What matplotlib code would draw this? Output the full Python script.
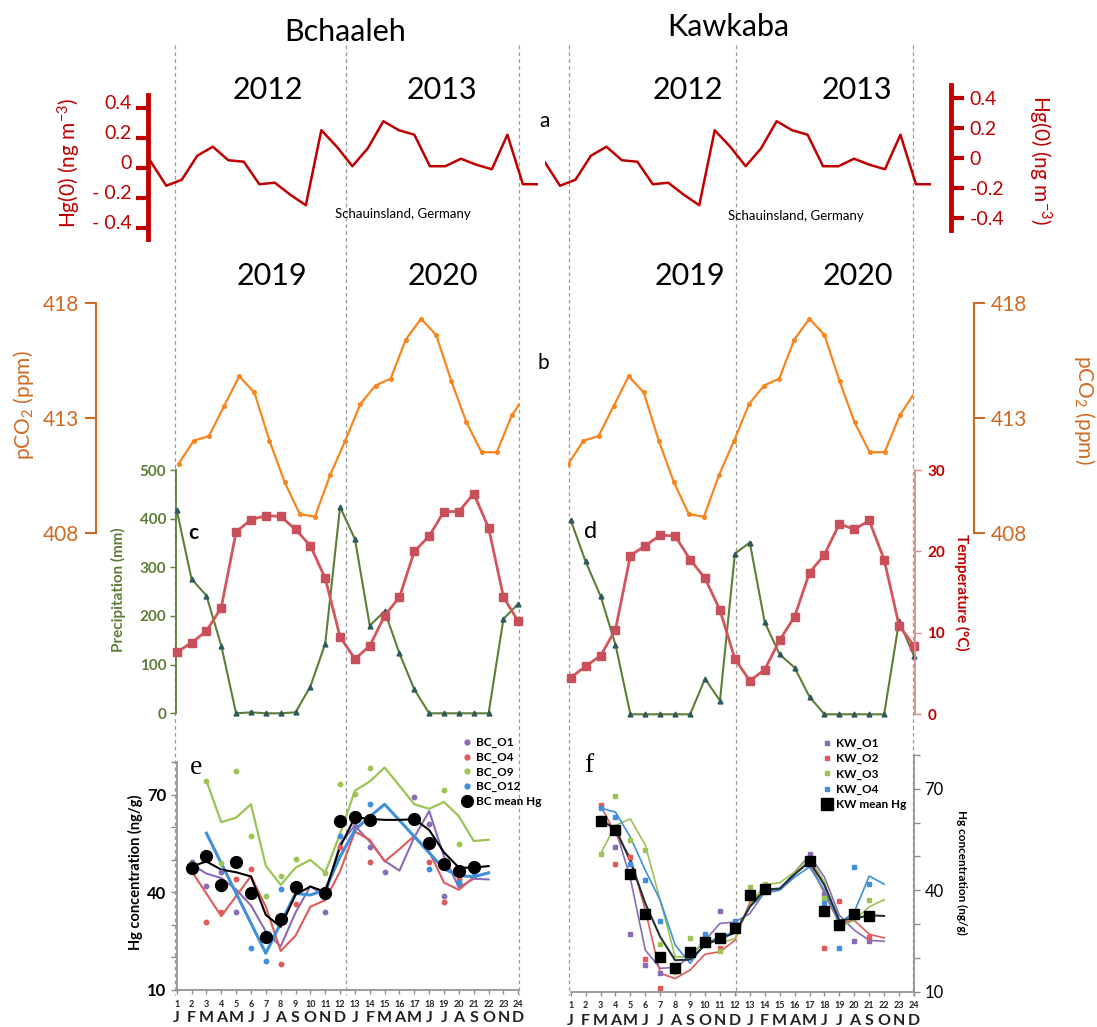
import numpy as np
import matplotlib
matplotlib.use("Agg")
import matplotlib.pyplot as plt
from matplotlib.lines import Line2D
from matplotlib import transforms as mtrans

plt.rcParams['font.family'] = ['Lato', 'DejaVu Sans']
plt.rcParams['mathtext.fontset'] = 'custom'
plt.rcParams['mathtext.rm'] = 'Lato'
plt.rcParams['mathtext.it'] = 'Lato:italic'
plt.rcParams['mathtext.bf'] = 'Lato:bold'
plt.rcParams['axes.unicode_minus'] = False

nan = np.nan

# ---------------- data ----------------
sites = ["Bchaaleh", "Kawkaba"]
years_hg = ["2012", "2013"]
years_co2 = ["2019", "2020"]
month_letters = ["J", "F", "M", "A", "M", "J", "J", "A", "S", "O", "N", "D"] * 2
month_numbers = [str(i) for i in range(1, 25)]

# (a) Hg(0) anomaly, Schauinsland (26 monthly points)
hg0 = [0.04, -0.12, -0.08, 0.08, 0.14, 0.05, 0.04, -0.11, -0.10, -0.18, -0.25, 0.25, 0.14,
       0.01, 0.13, 0.31, 0.25, 0.22, 0.01, 0.01, 0.06, 0.02, -0.01, 0.22, -0.11, -0.11]

# (b) pCO2 (ppm), months 1..24
pco2 = [411.0, 412.0, 412.2, 413.5, 414.8, 414.1, 412.0, 410.2, 408.8, 408.7, 410.5, 412.0,
        413.6, 414.4, 414.7, 416.4, 417.3, 416.6, 414.6, 412.8, 411.5, 411.5, 413.1, 414.1]

# (c) Bchaaleh precipitation (mm) and temperature (C)
precip_bc = [418, 276, 242, 139, 0, 2, 0, 0, 2, 55, 143, 424,
             358, 180, 210, 123, 49, 0, 0, 0, 0, 0, 194, 225]
temp_bc = [7.6, 8.8, 10.2, 13.1, 22.4, 23.9, 24.4, 24.3, 22.7, 20.7, 16.7, 9.5,
           6.8, 8.4, 12.1, 14.4, 20.0, 21.9, 24.9, 24.9, 27.1, 22.9, 14.4, 11.4]

# (d) Kawkaba precipitation (mm) and temperature (C)
precip_kw = [399, 314, 243, 143, 0, 0, 0, 0, 0, 73, 28, 330,
             353, 189, 123, 96, 36, 0, 0, 0, 0, 0, 191, 120]
temp_kw = [4.5, 5.9, 7.2, 10.4, 19.5, 20.7, 22.0, 21.9, 19.0, 16.7, 12.8, 6.8,
           4.1, 5.5, 9.1, 12.0, 17.4, 19.6, 23.4, 22.7, 23.8, 19.0, 10.9, 8.4]

# (e) Bchaaleh Hg (ng/g), months 1..24 : raw points
bc_o1_pts = [nan, 49.3, 42.1, 46.2, 34.1, nan, nan, nan, nan, nan, 34.1, 63.0,
             60.5, 54.1, 46.2, nan, 69.2, 61.1, 39.0, 42.5, nan, nan, nan, nan]
bc_o4_pts = [nan, nan, 31.0, 34.0, 44.0, 47.1, nan, 17.9, 36.3, nan, nan, 54.1,
             64.2, 49.2, nan, nan, nan, 49.2, 36.9, 44.1, nan, nan, nan, nan]
bc_o9_pts = [nan, nan, 74.3, 49.0, 77.3, 57.2, 39.0, 45.1, 50.2, nan, 45.9, 73.3,
             70.2, 78.4, nan, nan, nan, nan, 71.6, 55.0, nan, nan, nan, nan]
bc_o12_pts = [nan, nan, nan, 41.0, nan, 22.9, 18.9, 41.0, nan, nan, nan, 57.2,
              nan, 67.1, nan, nan, nan, 47.1, nan, 43.1, 46.1, nan, nan, nan]
bc_mean_pts = [nan, 47.6, 51.3, 42.4, 49.5, 39.9, 26.4, 31.9, 41.8, nan, 39.8, 62.1,
               63.1, 62.2, nan, nan, 62.6, 55.3, 48.7, 46.5, 47.9, nan, nan, nan]
# (e) trend lines
bc_o1_line = [nan, 48.6, 45.8, 44.4, 40.9, 36.0, 28.0, 23.4, 33.8, 41.9, 38.8, 55.0,
              60.5, 55.6, 49.7, 46.7, 57.0, 65.0, 51.0, 41.5, 44.2, 44.0, nan, nan]
bc_o4_line = [nan, 46.6, nan, 32.7, nan, 45.0, 35.6, 22.0, 26.7, 35.6, 37.6, 46.5,
              58.7, 56.2, 49.5, 53.3, 57.4, 52.6, 43.0, 40.8, 44.7, 46.1, nan, nan]
bc_o9_line = [nan, nan, 74.3, 61.6, 63.0, 67.1, 48.2, 42.3, 47.6, 50.0, 46.1, 58.0,
              71.3, 74.1, 78.4, 72.8, 67.1, 65.7, 67.8, 63.4, 55.8, 56.2, nan, nan]
bc_o12_line = [nan, nan, 58.2, nan, nan, nan, 21.3, nan, 39.7, 39.2, 40.8, 51.0,
               59.2, 63.3, 67.1, nan, nan, nan, 47.2, 45.2, 44.8, 46.0, nan, nan]
bc_mean_line = [nan, 48.0, 49.5, 47.0, 46.2, 44.9, 33.1, 29.4, 39.3, 41.8, 40.2, 54.0,
                63.1, 62.6, 62.3, 62.3, 62.5, 59.2, 52.3, 47.6, 47.6, 48.1, nan, nan]

# (f) Kawkaba Hg (ng/g), months 1..24 : raw points
kw_o1_pts = [nan, nan, 61.4, 52.8, 27.0, 17.9, 15.4, nan, nan, nan, 33.9, nan,
             nan, nan, nan, nan, 50.8, 39.0, nan, 25.0, 24.9, nan, nan, nan]
kw_o2_pts = [nan, nan, 65.1, 47.9, 49.8, 19.8, 11.0, nan, nan, nan, 22.8, nan,
             nan, nan, nan, nan, nan, 22.8, 36.8, nan, 26.2, nan, nan, nan]
kw_o3_pts = [nan, nan, 50.8, 67.8, 54.9, 52.0, 24.0, 15.9, 25.9, nan, 22.1, nan,
             41.0, 41.8, nan, nan, nan, 37.7, nan, nan, 37.2, nan, nan, nan]
kw_o4_pts = [nan, nan, 64.4, 61.8, 47.9, 42.9, 30.9, nan, nan, 27.0, nan, 30.9,
             nan, nan, nan, nan, nan, 36.1, 22.8, 46.9, 41.8, nan, nan, nan]
kw_mean_pts = [nan, nan, 60.4, 57.7, 44.9, 33.1, 20.3, 17.1, 21.8, 24.7, 26.0, 28.7,
               38.7, 40.5, nan, nan, 48.8, 33.8, 29.7, 33.1, 32.4, nan, nan, nan]
# (f) trend lines
kw_o1_line = [nan, nan, 61.1, 58.2, 43.5, 22.3, 16.9, 17.2, 20.3, 25.2, 30.2, 30.6,
              33.1, 39.5, 40.2, 45.4, 50.3, 43.9, 32.6, 28.2, 25.2, 24.9, nan, nan]
kw_o2_line = [nan, nan, 65.1, 56.7, 49.8, 34.1, 15.4, 13.9, 16.4, 21.1, 21.8, 25.2,
              36.5, 39.5, 40.2, 44.9, 48.3, 39.0, 30.2, 31.1, 27.0, 25.9, nan, nan]
kw_o3_line = [nan, nan, 50.8, 59.2, 61.1, 53.3, 37.0, 20.3, 20.3, 25.4, 24.3, 25.7,
              35.6, 41.7, 42.2, 45.4, 49.8, 42.4, 29.2, 31.1, 35.1, 37.2, nan, nan]
kw_o4_line = [nan, nan, 64.3, 63.1, 55.7, 45.9, 37.0, 23.8, 18.4, 24.3, 26.2, 27.7,
              35.1, 39.2, 40.0, 43.9, 46.9, 40.0, 30.2, 33.6, 44.2, 41.8, nan, nan]
kw_mean_line = [nan, nan, 60.6, 58.2, 48.6, 36.1, 26.2, 19.3, 19.5, 23.8, 25.7, 27.4,
                35.1, 40.2, 40.5, 44.7, 48.5, 41.5, 31.1, 31.6, 32.6, 32.4, nan, nan]

bc_labels = ["BC_O1", "BC_O4", "BC_O9", "BC_O12", "BC mean Hg"]
kw_labels = ["KW_O1", "KW_O2", "KW_O3", "KW_O4", "KW mean Hg"]

# ---------------- styles ----------------
RED = '#C00000'
ORANGE = '#F7861E'
ORANGE_AX = '#CF6A22'
GREEN = '#5E7D37'
GREEN_MK = '#2D5A5A'
TRED = '#D4565C'
PURPLE = '#8A6BB5'
SRED = '#E05A5A'
LGREEN = '#9CC454'
BLUE = '#3F8FDA'
GREYAX = '#8C8C8C'

W, H, DPI = 1097, 1027, 100
fig = plt.figure(figsize=(W / DPI, H / DPI), dpi=DPI)

ov = fig.add_axes([0, 0, 1, 1])
ov.set_xlim(0, W)
ov.set_ylim(H, 0)
ov.axis('off')


def axpx(x0, y0, x1, y1):
    ax = fig.add_axes([x0 / W, 1 - y1 / H, (x1 - x0) / W, (y1 - y0) / H])
    ax.patch.set_visible(False)
    return ax


def keep_spines(ax, keep):
    for s in ax.spines:
        ax.spines[s].set_visible(s in keep)


def valid_plot(ax, x, y, **kw):
    y = np.asarray(y, float)
    m = ~np.isnan(y)
    ax.plot(np.asarray(x)[m], y[m], **kw)


months = np.arange(1, 25)

# dashed separators
for xs in (175, 345.7, 519.3, 569, 736, 913.3):
    ov.plot([xs, xs], [45, 995], color='#9A9A9A', lw=0.9, ls=(0, (3, 2.5)), zorder=0)

# titles
ov.text(345, 32, sites[0], fontsize=22, ha='center', va='center')
ov.text(728, 27, sites[1], fontsize=22, ha='center', va='center')
for (xx, yy, t) in [(268, 90, years_hg[0]), (442, 90, years_hg[1]),
                    (688, 90, years_hg[0]), (857, 90, years_hg[1]),
                    (272, 276, years_co2[0]), (443, 276, years_co2[1]),
                    (690, 276, years_co2[0]), (858, 276, years_co2[1])]:
    ov.text(xx, yy, t, fontsize=22, ha='center', va='center')

ov.text(545, 121, 'a', fontsize=15, ha='center', va='center')
ov.text(543, 363, 'b', fontsize=15, ha='center', va='center')
ov.text(193, 533, 'c', fontsize=15, fontweight='bold', ha='center', va='center')
ov.text(591, 531, 'd', fontsize=17, ha='center', va='center')
ov.text(196, 768, 'e', fontsize=20, family='Liberation Serif', ha='center', va='center')
ov.text(589, 766, 'f', fontsize=20, family='Liberation Serif', ha='center', va='center')
ov.text(335, 214, 'Schauinsland, Germany', fontsize=9.5, ha='left', va='center')
ov.text(728, 216, 'Schauinsland, Germany', fontsize=9.5, ha='left', va='center')

# ---------------- (a) Hg(0) ----------------
hx = np.arange(len(hg0))
axh = axpx(148, 95, 538.4, 239.3)
axh.plot(hx, hg0, color=RED, lw=1.8)
axh.set_xlim(-0.18, 25)
axh.set_ylim(-0.477, 0.4847)
keep_spines(axh, ['left'])
axh.spines['left'].set_color(RED)
axh.spines['left'].set_linewidth(3.5)
axh.set_xticks([])
axh.set_yticks([0.4, 0.2, 0, -0.2, -0.4])
axh.set_yticklabels(['0.4', '0.2', '0', '- 0.2', '- 0.4'])
axh.tick_params(axis='y', colors=RED, length=9, width=3, labelsize=14, pad=3)
off = mtrans.ScaledTranslation(0, 0.06, fig.dpi_scale_trans)
for t in axh.yaxis.get_major_ticks():
    t.label1.set_transform(t.label1.get_transform() + off)
ov.text(69, 163, 'Hg(0) (ng m$^{-3}$)', color=RED, fontsize=15, rotation=90,
        ha='center', va='center')

axh2 = axpx(544.5, 95, 931.4, 239.3)
axh2.plot(hx, hg0, color=RED, lw=1.8)
axh2.set_xlim(0, 25)
axh2.set_ylim(-0.477, 0.4847)
keep_spines(axh2, [])
axh2.set_xticks([])
axh2.set_yticks([])

axh3 = axpx(940, 85, 951.3, 230)
axh3.set_ylim(-0.478, 0.4887)
keep_spines(axh3, ['right'])
axh3.spines['right'].set_color(RED)
axh3.spines['right'].set_linewidth(3.5)
axh3.set_xticks([])
axh3.yaxis.tick_right()
axh3.set_yticks([0.4, 0.2, 0, -0.2, -0.4])
axh3.set_yticklabels(['0.4', '0.2', '0', '-0.2', '-0.4'])
axh3.tick_params(axis='y', colors=RED, length=9, width=3, labelsize=14, pad=4)
ov.text(1040, 160, 'Hg(0) (ng m$^{-3}$)', color=RED, fontsize=15, rotation=270,
        ha='center', va='center')

# ---------------- (b) pCO2 ----------------
axb = axpx(175, 302.7, 519, 532.7)
axb.plot(months, pco2, color=ORANGE, lw=1.6, marker='o', ms=2.6)
axb.set_xlim(0.762, 23.47)
axb.set_ylim(408, 418)
keep_spines(axb, ['left'])
axb.spines['left'].set_position(('axes', -0.2305))
axb.spines['left'].set_color(ORANGE_AX)
axb.spines['left'].set_linewidth(1.5)
axb.set_xticks([])
axb.set_yticks([408, 413, 418])
axb.tick_params(axis='y', colors=ORANGE_AX, length=8, width=1.5, labelsize=15, pad=4)
ov.text(24, 405, 'pCO$_2$ (ppm)', color=ORANGE_AX, fontsize=15, rotation=90,
        ha='center', va='center')

axb2 = axpx(568.4, 302.7, 913, 532.7)
axb2.plot(months, pco2, color=ORANGE, lw=1.6, marker='o', ms=2.6)
axb2.set_xlim(1, 23.88)
axb2.set_ylim(408, 418)
keep_spines(axb2, ['right'])
axb2.spines['right'].set_position(('axes', 1.177))
axb2.spines['right'].set_color(ORANGE_AX)
axb2.spines['right'].set_linewidth(1.5)
axb2.yaxis.tick_right()
axb2.set_xticks([])
axb2.set_yticks([408, 413, 418])
axb2.tick_params(axis='y', colors=ORANGE_AX, length=8, width=1.5, labelsize=15, pad=4)
ov.text(1084, 410, 'pCO$_2$ (ppm)', color=ORANGE_AX, fontsize=15, rotation=270,
        ha='center', va='center')

# ---------------- (c) / (d) climate ----------------
def climate(x0, y0, x1, y1, xlim, pl, tl, precip, temp):
    ax = axpx(x0, y0, x1, y1)
    ax.set_xlim(*xlim)
    ax.set_ylim(*pl)
    ax.plot(months, precip, color=GREEN, lw=1.5, marker='^', ms=3.5,
            mfc=GREEN_MK, mec=GREEN_MK, clip_on=False, zorder=3)
    axt = ax.twinx()
    axt.patch.set_visible(False)
    axt.set_ylim(*tl)
    axt.plot(months, temp, color=TRED, lw=2, marker='s', ms=5.5,
             mfc='#C9505A', mec='#C9505A', clip_on=False, zorder=2)
    ax.set_xticks([])
    return ax, axt

axc, axct = climate(176, 470, 519, 713.3, (0.953, 24.047), (0, 500), (0.12, 30),
                    precip_bc, temp_bc)
keep_spines(axc, ['left'])
axc.spines['left'].set_color(GREEN)
axc.spines['left'].set_linewidth(1.3)
axc.set_yticks([0, 100, 200, 300, 400, 500])
axc.tick_params(axis='y', colors=GREEN, length=4, width=1, labelsize=11, pad=3)
for lab in axc.get_yticklabels():
    lab.set_fontweight('bold')
keep_spines(axct, [])
axct.set_yticks([])
ov.text(118, 590, 'Precipitation (mm)', color=GREEN, fontsize=11, fontweight='bold',
        rotation=90, ha='center', va='center')

axd, axdt = climate(570, 470, 915, 714.3, (1 - 0.7 / 14.926, 24 + 1 / 14.926), (0, 502),
                    (0, 30), precip_kw, temp_kw)
keep_spines(axd, [])
axd.set_yticks([])
keep_spines(axdt, ['right'])
axdt.spines['right'].set_color('#DB8A8A')
axdt.spines['right'].set_linewidth(1.3)
axdt.set_yticks([0, 10, 20, 30])
axdt.tick_params(axis='y', colors='#DB8A8A', labelcolor=RED, length=4, width=1,
                 labelsize=11, pad=5)
for lab in axdt.get_yticklabels():
    lab.set_fontweight('bold')
ov.text(962, 592, 'Temperature (°C)', color=RED, fontsize=11, fontweight='bold',
        rotation=270, ha='center', va='center')

# ---------------- (e) / (f) Hg in soils ----------------
def hg_panel(ax, series_lines, series_pts, colors, mean_line, mean_pts, mean_color,
             marker, mean_marker, lw, mean_ms):
    for ln, c, w in zip(series_lines, colors, lw):
        valid_plot(ax, months, ln, color=c, lw=w, zorder=2)
    valid_plot(ax, months, mean_line, color=mean_color, lw=1.5, zorder=3)
    for pts, c in zip(series_pts, colors):
        ax.plot(months, pts, ls='none', marker=marker, ms=3.2, color=c, zorder=4)
    ax.plot(months, mean_pts, ls='none', marker=mean_marker, ms=mean_ms, color='black',
            zorder=5)
    ax.set_xlim(1, 24)
    ax.set_ylim(10, 80)
    ax.set_xticks(months)
    ax.set_xticklabels(month_numbers)
    ax.set_yticks([10, 40, 70])
    ax.set_yticks([20, 30, 50, 60, 80], minor=True)
    ax.tick_params(axis='x', length=3, width=1, colors=GREYAX, labelcolor='#222222',
                   labelsize=6.5, pad=4)
    for lab in ax.get_xticklabels():
        lab.set_fontweight('bold')
    ax.tick_params(axis='y', which='both', length=4, width=1, colors=GREYAX,
                   labelcolor='black', labelsize=12)
    for lab in ax.get_yticklabels():
        lab.set_fontweight('bold')
    tr = ax.get_xaxis_transform()
    for m, l in zip(months, month_letters):
        ax.text(m, -0.125, l, transform=tr, ha='center', va='center', fontsize=11.5,
                fontweight='bold', color='#222222')

axe = axpx(176.7, 762.3, 518.3, 990)
hg_panel(axe, [bc_o1_line, bc_o4_line, bc_o9_line, bc_o12_line],
         [bc_o1_pts, bc_o4_pts, bc_o9_pts, bc_o12_pts],
         [PURPLE, SRED, LGREEN, BLUE], bc_mean_line, bc_mean_pts, 'black',
         'o', 'o', [1.5, 1.5, 1.6, 2.2], 8.5)
keep_spines(axe, ['left', 'bottom'])
for s in ('left', 'bottom'):
    axe.spines[s].set_color(GREYAX)
    axe.spines[s].set_linewidth(1.2)
ov.text(135, 872, 'Hg concentration (ng/g)', fontsize=10.5, fontweight='bold',
        rotation=90, ha='center', va='center')

handles_e = [Line2D([], [], ls='none', marker='o', ms=3.5, color=c)
             for c in [PURPLE, SRED, LGREEN, BLUE]]
handles_e.append(Line2D([], [], ls='none', marker='o', ms=8.5, color='black'))
fig.legend(handles_e, bc_labels, loc='upper left', bbox_to_anchor=(462 / W, 1 - 737 / H),
           frameon=False, fontsize=8.5, handlelength=0.8, handletextpad=0.4,
           labelspacing=0.3, borderpad=0, borderaxespad=0,
           prop={'weight': 'bold', 'size': 8.5})

axf = axpx(570.7, 755, 914, 991.7)
hg_panel(axf, [kw_o1_line, kw_o2_line, kw_o3_line, kw_o4_line],
         [kw_o1_pts, kw_o2_pts, kw_o3_pts, kw_o4_pts],
         [PURPLE, SRED, LGREEN, BLUE], kw_mean_line, kw_mean_pts, '#1E3434',
         's', 's', [1.2, 1.2, 1.2, 1.2], 7.5)
keep_spines(axf, ['right', 'bottom'])
axf.yaxis.tick_right()
for s in ('right', 'bottom'):
    axf.spines[s].set_color(GREYAX)
    axf.spines[s].set_linewidth(1.2)
ov.text(962, 872, 'Hg concentration (ng/g)', fontsize=8.5, fontweight='bold',
        rotation=270, ha='center', va='center')

handles_f = [Line2D([], [], ls='none', marker='s', ms=3.5, color=c)
             for c in [PURPLE, SRED, LGREEN, BLUE]]
handles_f.append(Line2D([], [], ls='none', marker='s', ms=8, color='black'))
fig.legend(handles_f, kw_labels, loc='upper left', bbox_to_anchor=(822 / W, 1 - 738 / H),
           frameon=False, handlelength=0.8, handletextpad=0.4,
           labelspacing=0.35, borderpad=0, borderaxespad=0,
           prop={'weight': 'bold', 'size': 8.5})

fig.savefig('out.png', dpi=DPI)
